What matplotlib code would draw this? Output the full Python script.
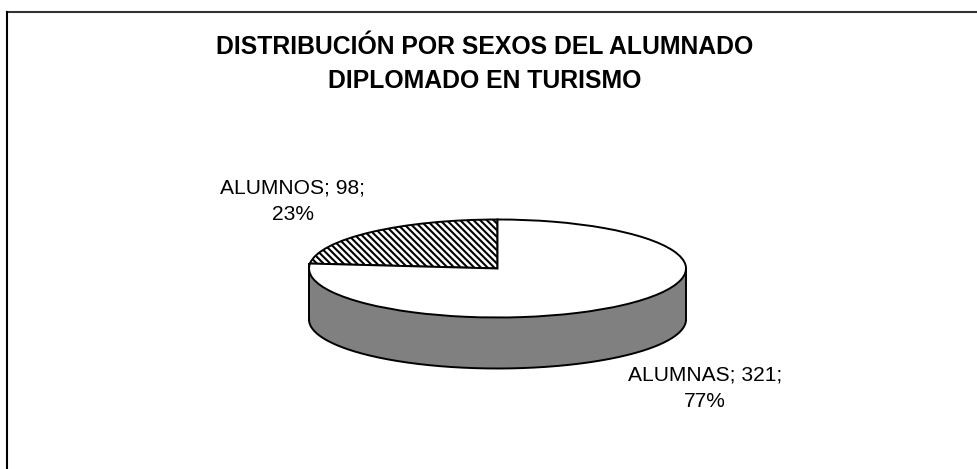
import numpy as np
import matplotlib
matplotlib.use('Agg')
import matplotlib.pyplot as plt
from matplotlib.lines import Line2D

# Datos del grafico
categorias = ['ALUMNOS', 'ALUMNAS']
valores = [98, 321]
titulo = ['DISTRIBUCIÓN POR SEXOS DEL ALUMNADO', 'DIPLOMADO EN TURISMO']

plt.rcParams['font.family'] = ['Liberation Sans', 'DejaVu Sans']
plt.rcParams['hatch.linewidth'] = 1.5

W, H = 978, 469
fig = plt.figure(figsize=(W / 100, H / 100), dpi=100, facecolor='white')

# Centro y radios de la elipse en pixeles
cx, cy, rx, ry, fondo = 497.5, 268.5, 188.5, 49, 51

ax = fig.add_axes([0, 0, 1, 1])
wedges, _ = ax.pie(valores, startangle=90, radius=1, center=(0, 0),
                   colors=['white', 'white'],
                   wedgeprops={'edgecolor': 'black', 'linewidth': 1.4, 'zorder': 3})
wedges[0].set_hatch('\\\\\\\\\\')
ax.set_aspect('auto')
ax.set_xlim(-cx / rx, (W - cx) / rx)
ax.set_ylim((cy - H) / ry, cy / ry)
ax.axis('off')

# Pared lateral del "queso" 3D
t = np.linspace(np.pi, 2 * np.pi, 300)
x = np.cos(t)
y = np.sin(t)
prof = fondo / ry
ax.fill_between(x, y, y - prof, facecolor='#808080', edgecolor='none', zorder=1)
ax.plot(x, y - prof, color='black', lw=1.4, zorder=2)
ax.plot([-1, -1], [0.1, -prof], color='black', lw=1.4, zorder=2)
ax.plot([1, 1], [0, -prof], color='black', lw=1.4, zorder=2)

# Marco (solo arriba e izquierda)
fig.add_artist(Line2D([7.5 / W, 1], [1 - 12 / H, 1 - 12 / H], color='#333333', lw=1.5))
fig.add_artist(Line2D([7.5 / W, 7.5 / W], [1 - 12 / H, 0], color='black', lw=1.5))

# Titulo, linea por linea
for linea, base in zip(titulo, [53.5, 88]):
    fig.text(485 / W, 1 - base / H, linea, ha='center', va='baseline', fontsize=17.8,
             fontweight='bold', color='black')

# Etiquetas de datos
total = sum(valores)
posiciones = [(293, 193), (705, 380)]
for cat, val, (px, base) in zip(categorias, valores, posiciones):
    fig.text(px / W, 1 - base / H, f'{cat}; {val};', ha='center', va='baseline',
             fontsize=15.1, color='black')
    fig.text(px / W, 1 - (base + 27) / H, f'{round(100 * val / total)}%', ha='center',
             va='baseline', fontsize=15.1, color='black')

fig.savefig('out.png', dpi=100)
